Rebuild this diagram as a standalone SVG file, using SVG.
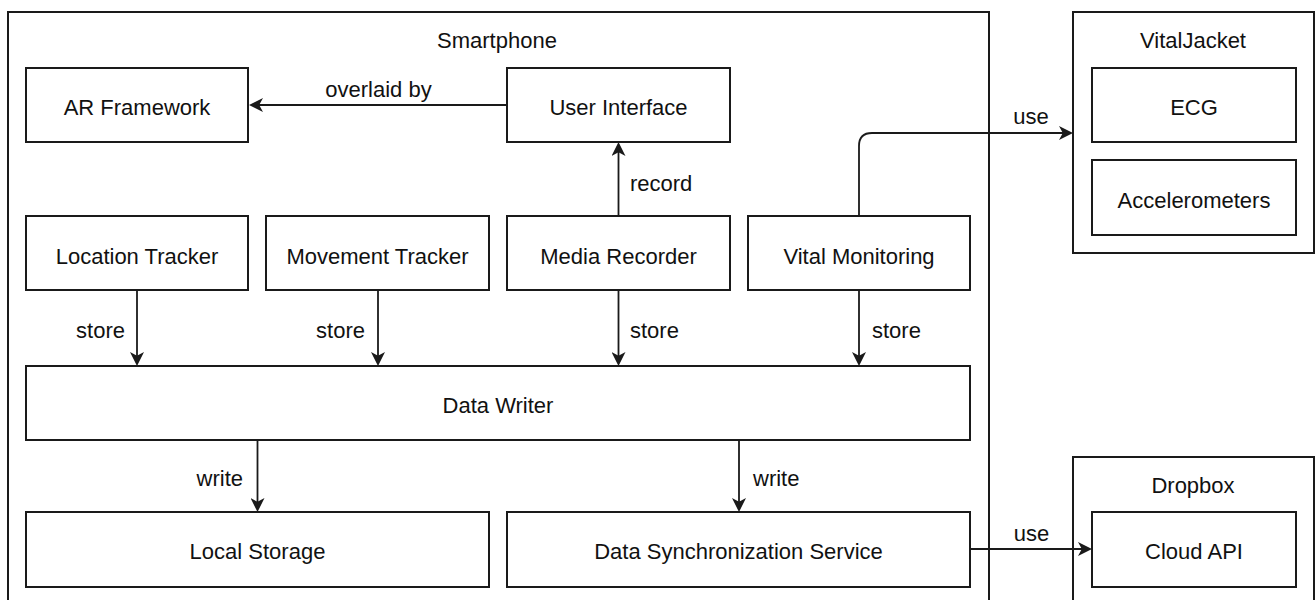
<svg xmlns="http://www.w3.org/2000/svg" width="1315" height="600" viewBox="0 0 1315 600">
  <style>
    .box { fill: #ffffff; stroke: #1a1a1a; stroke-width: 2; }
    .cont { fill: none; stroke: #1a1a1a; stroke-width: 2; }
    .lbl { font-family: "Liberation Sans", Arial, Helvetica, sans-serif; font-size: 22px; fill: #111111; text-anchor: middle; }
    .st { text-anchor: start; }
    .en { text-anchor: end; }
    .edge { fill: none; stroke: #1a1a1a; stroke-width: 1.8; marker-end: url(#arr); }
  </style>
  <defs>
    <marker id="arr" markerUnits="userSpaceOnUse" markerWidth="14" markerHeight="14" viewBox="0 0 14 14" refX="11" refY="7" orient="auto">
      <path d="M0,0 L14,7 L0,14 L3.8,7 Z" fill="#1a1a1a"/>
    </marker>
  </defs>
  <rect width="1315" height="600" fill="#ffffff"/>

  <g id="smartphone">
    <rect class="cont" x="8" y="12" width="981" height="600"/>
    <text class="lbl" x="497" y="48">Smartphone</text>
  </g>
  <g id="vitaljacket">
    <rect class="cont" x="1073" y="12" width="241" height="241"/>
    <text class="lbl" x="1193" y="48">VitalJacket</text>
  </g>
  <g id="dropbox">
    <rect class="cont" x="1073" y="457" width="241" height="160"/>
    <text class="lbl" x="1193" y="493">Dropbox</text>
  </g>

  <g id="ar-framework">
    <rect class="box" x="26" y="68" width="222" height="74"/>
    <text class="lbl" x="137" y="115">AR Framework</text>
  </g>
  <g id="user-interface">
    <rect class="box" x="507" y="68" width="223" height="74"/>
    <text class="lbl" x="618.5" y="115">User Interface</text>
  </g>
  <g id="location-tracker">
    <rect class="box" x="26" y="216" width="222" height="74"/>
    <text class="lbl" x="137" y="264">Location Tracker</text>
  </g>
  <g id="movement-tracker">
    <rect class="box" x="266" y="216" width="223" height="74"/>
    <text class="lbl" x="377.5" y="264">Movement Tracker</text>
  </g>
  <g id="media-recorder">
    <rect class="box" x="507" y="216" width="223" height="74"/>
    <text class="lbl" x="618.5" y="264">Media Recorder</text>
  </g>
  <g id="vital-monitoring">
    <rect class="box" x="748" y="216" width="222" height="74"/>
    <text class="lbl" x="859" y="264">Vital Monitoring</text>
  </g>
  <g id="data-writer">
    <rect class="box" x="26" y="366" width="944" height="74"/>
    <text class="lbl" x="498" y="413">Data Writer</text>
  </g>
  <g id="local-storage">
    <rect class="box" x="26" y="512" width="463" height="75"/>
    <text class="lbl" x="257.5" y="559">Local Storage</text>
  </g>
  <g id="data-sync">
    <rect class="box" x="507" y="512" width="463" height="75"/>
    <text class="lbl" x="738.5" y="559">Data Synchronization Service</text>
  </g>
  <g id="ecg">
    <rect class="box" x="1092" y="68" width="204" height="74"/>
    <text class="lbl" x="1194" y="115">ECG</text>
  </g>
  <g id="accelerometers">
    <rect class="box" x="1092" y="160" width="204" height="75"/>
    <text class="lbl" x="1194" y="208">Accelerometers</text>
  </g>
  <g id="cloud-api">
    <rect class="box" x="1092" y="512" width="204" height="75"/>
    <text class="lbl" x="1194" y="559">Cloud API</text>
  </g>

  <g id="connectors">
    <path class="edge" d="M507,105 L252,105"/>
    <path class="edge" d="M618.5,216 L618.5,145"/>
    <path class="edge" d="M859,216 L859,146 Q859,133 872,133 L1070,133"/>
    <path class="edge" d="M137,290 L137,363"/>
    <path class="edge" d="M378,290 L378,363"/>
    <path class="edge" d="M618.5,290 L618.5,363"/>
    <path class="edge" d="M859,290 L859,363"/>
    <path class="edge" d="M257.5,440 L257.5,509"/>
    <path class="edge" d="M739,440 L739,509"/>
    <path class="edge" d="M970,549 L1089,549"/>
    <text class="lbl" x="378.5" y="97">overlaid by</text>
    <text class="lbl st" x="630" y="191">record</text>
    <text class="lbl" x="1031" y="124">use</text>
    <text class="lbl en" x="125" y="338">store</text>
    <text class="lbl en" x="365" y="338">store</text>
    <text class="lbl st" x="630" y="338">store</text>
    <text class="lbl st" x="872" y="338">store</text>
    <text class="lbl en" x="243" y="486">write</text>
    <text class="lbl st" x="753" y="486">write</text>
    <text class="lbl" x="1031.5" y="541">use</text>
  </g>
</svg>
